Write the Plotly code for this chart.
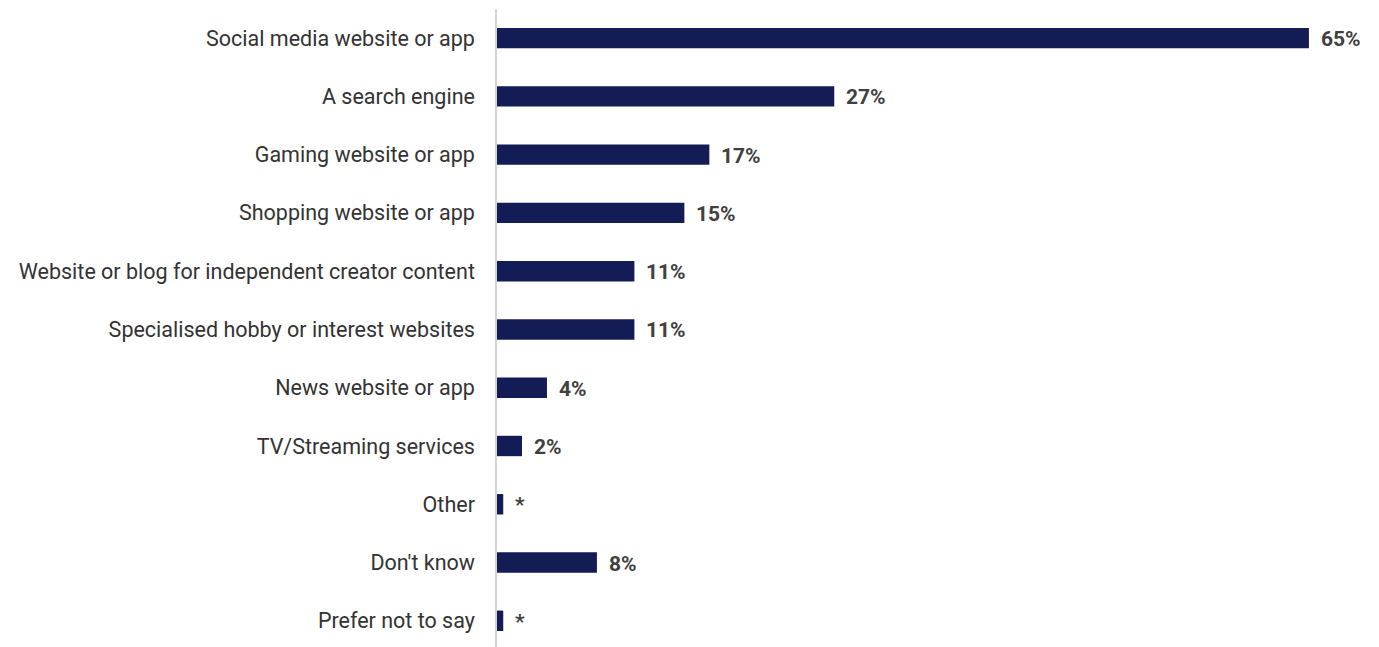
import plotly.graph_objects as go

# Where content was seen (share of respondents, %)
categories = [
    "Social media website or app",
    "A search engine",
    "Gaming website or app",
    "Shopping website or app",
    "Website or blog for independent creator content",
    "Specialised hobby or interest websites",
    "News website or app",
    "TV/Streaming services",
    "Other",
    "Don't know",
    "Prefer not to say",
]
values = [65, 27, 17, 15, 11, 11, 4, 2, 0.5, 8, 0.5]
value_labels = ["65%", "27%", "17%", "15%", "11%", "11%", "4%", "2%", "*", "8%", "*"]

BAR_COLOR = "#141c56"
LABEL_COLOR = "#404040"
FONT = "Roboto, Inter, sans-serif"

fig = go.Figure(
    go.Bar(
        x=values,
        y=categories,
        orientation="h",
        marker=dict(color=BAR_COLOR, line=dict(width=0)),
        hoverinfo="skip",
    )
)

for cat, val, lab in zip(categories, values, value_labels):
    fig.add_annotation(
        x=val, y=cat, text=f"<b>{lab}</b>",
        showarrow=False, xanchor="left", yanchor="middle",
        xshift=10, yshift=-1,
        font=dict(family=FONT, size=21, color=LABEL_COLOR),
    )

fig.update_layout(
    width=1379, height=647,
    margin=dict(l=497, r=12, t=9, b=0),
    paper_bgcolor="white", plot_bgcolor="white",
    bargap=0.65,
    showlegend=False,
    font=dict(family=FONT, size=21.5, color="#333333"),
    xaxis=dict(range=[0, 69.65], visible=False, fixedrange=True),
    yaxis=dict(
        categoryorder="array", categoryarray=categories,
        range=[10.45, -0.5],
        showline=True, linecolor="#d4d4d4", linewidth=1.5,
        ticks="", ticklabelstandoff=16,
        tickfont=dict(family=FONT, size=21.5, color="#333333"),
        showgrid=False, zeroline=False, fixedrange=True,
    ),
)

fig.write_html("out.html")
